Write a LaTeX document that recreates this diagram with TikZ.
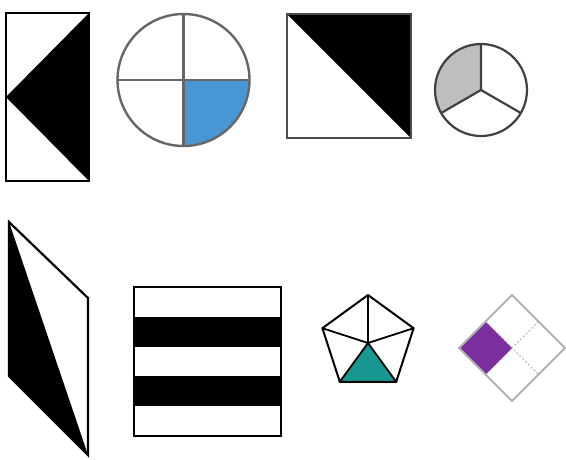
\documentclass[tikz,border=0pt]{standalone}
\usepackage{xcolor}
\usepackage{tikz}
\usetikzlibrary{calc}

\definecolor{quarterblue}{RGB}{72,150,212}
\definecolor{thirdgray}{RGB}{190,190,190}
\definecolor{fifthteal}{RGB}{24,152,144}
\definecolor{quadpurple}{RGB}{124,48,160}

\begin{document}
\begin{tikzpicture}[x=1pt, y=-1pt,
  edge/.style={draw=black, line width=2.2pt, line join=miter},
  greyedge/.style={draw=black!60, line width=2.4pt},
  darkedge/.style={draw=black!75, line width=2.2pt},
  lightedge/.style={draw=black!30, line width=1.8pt},
  divider/.style={draw=black!25, line width=1.2pt, dash pattern=on 2pt off 2pt}
]
\useasboundingbox (0,0) rectangle (566,459);
% top row
\fill[black] (89,13) -- (6,97) -- (89,181) -- cycle;
\draw[edge] (6,13) rectangle (89,181);
\fill[quarterblue] (183.5,80) -- (249.5,80) arc[start angle=0, end angle=90, radius=66] -- cycle;
\draw[greyedge] (117.5,80) -- (249.5,80) (183.5,14) -- (183.5,146);
\draw[greyedge] (183.5,80) circle[radius=66];
\fill[black] (287,14) -- (411,14) -- (411,138) -- cycle;
\draw[edge, draw=black!70, line width=2pt] (287,14) rectangle (411,138);
\fill[thirdgray] (481,90) -- (441.2,113) arc[start angle=150, end angle=270, radius=46] -- cycle;
\draw[darkedge] (481,90) -- (481,44) (481,90) -- (520.8,113) (481,90) -- (441.2,113);
\draw[darkedge] (481,90) circle[radius=46];
% bottom row
\fill[black] (9,222) -- (9,376) -- (88,455) -- cycle;
\draw[edge] (9,222) -- (88,298) -- (88,455) -- (9,376) -- cycle;
\foreach \y in {317,376} {
  \fill[black] (134,\y) rectangle (281,\y+29.5);
}
\draw[edge, line width=2pt] (134,287) rectangle (281,436);
\coordinate (c5) at (368,343);
\coordinate (p1) at (368,295);
\coordinate (p2) at (413.6,328.2);
\coordinate (p3) at (396.2,381.8);
\coordinate (p4) at (339.8,381.8);
\coordinate (p5) at (322.4,328.2);
\fill[fifthteal] (c5) -- (p3) -- (p4) -- cycle;
\foreach \p in {p1,p2,p3,p4,p5} { \draw[edge, line width=1.8pt] (c5) -- (\p); }
\draw[edge, line width=2pt] (p1) -- (p2) -- (p3) -- (p4) -- (p5) -- cycle;
\coordinate (dt) at (512,295);
\coordinate (dr) at (565,348);
\coordinate (db) at (512,401);
\coordinate (dl) at (459,348);
\draw[divider] ($(dt)!0.5!(dl)$) -- ($(dr)!0.5!(db)$);
\draw[divider] ($(dt)!0.5!(dr)$) -- ($(dl)!0.5!(db)$);
\fill[quadpurple] (dl) -- ($(dt)!0.5!(dl)$) -- (512,348) -- ($(dl)!0.5!(db)$) -- cycle;
\draw[lightedge] (dt) -- (dr) -- (db) -- (dl) -- cycle;
\end{tikzpicture}
\end{document}
